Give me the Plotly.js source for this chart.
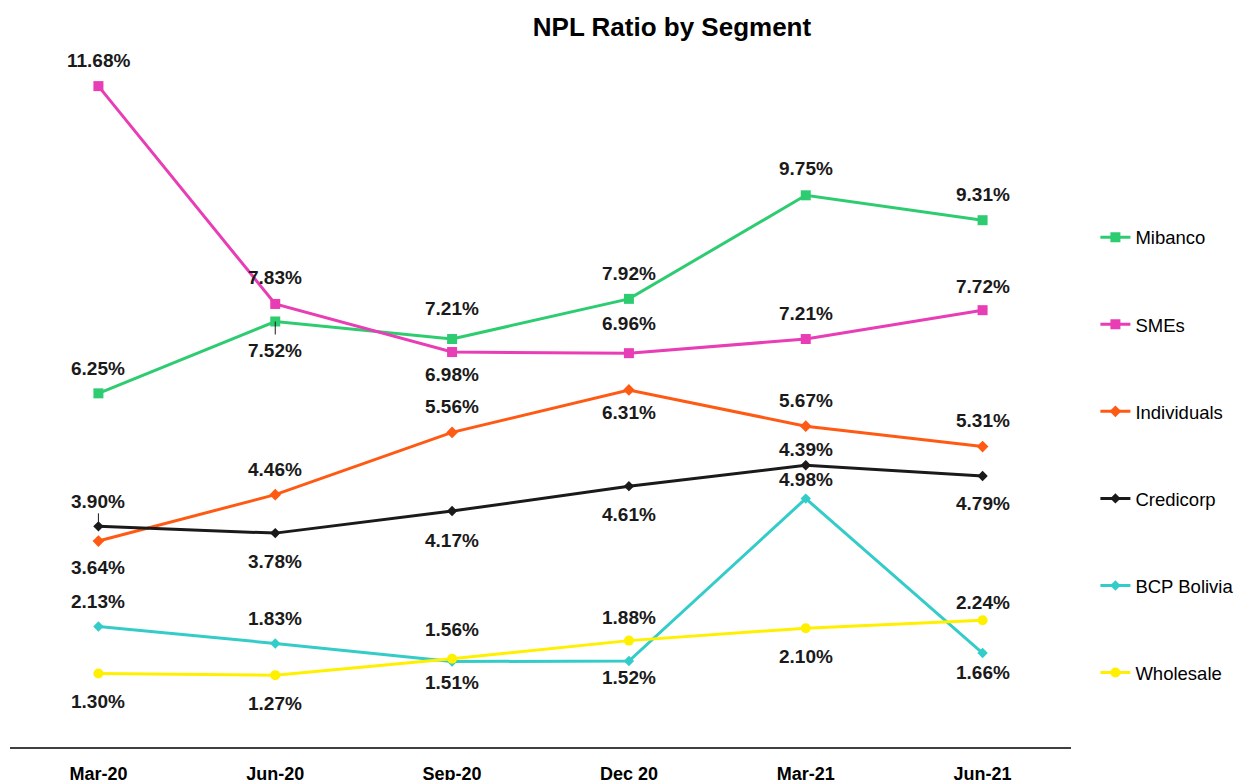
<!DOCTYPE html>
<html>
<head>
<meta charset="utf-8">
<script src="https://cdn.plot.ly/plotly-3.0.1.min.js"></script>
<style>html,body{margin:0;padding:0;background:#fff;}#chart{width:1241px;height:780px;}</style>
</head>
<body>
<div id="chart"></div>
<script>
// ---- data ----
const categories = ['Mar-20', 'Jun-20', 'Sep-20', 'Dec 20', 'Mar-21', 'Jun-21'];
const seriesNames = ['Mibanco', 'SMEs', 'Individuals', 'Credicorp', 'BCP Bolivia', 'Wholesale'];
const mibanco     = [6.25, 7.52, 7.21, 7.92, 9.75, 9.31];
const smes        = [11.68, 7.83, 6.98, 6.96, 7.21, 7.72];
const individuals = [3.64, 4.46, 5.56, 6.31, 5.67, 5.31];
const credicorp   = [3.90, 3.78, 4.17, 4.61, 4.98, 4.79];
const bcpBolivia  = [2.13, 1.83, 1.51, 1.52, 4.39, 1.66];
const wholesale   = [1.30, 1.27, 1.56, 1.88, 2.10, 2.24];
// data labels as printed in the reference (Mar-21 labels of Credicorp / BCP Bolivia are swapped there)
const mibancoLabels     = ['6.25%', '7.52%', '7.21%', '7.92%', '9.75%', '9.31%'];
const smesLabels        = ['11.68%', '7.83%', '6.98%', '6.96%', '7.21%', '7.72%'];
const individualsLabels = ['3.64%', '4.46%', '5.56%', '6.31%', '5.67%', '5.31%'];
const credicorpLabels   = ['3.90%', '3.78%', '4.17%', '4.61%', '4.39%', '4.79%'];
const bcpBoliviaLabels  = ['2.13%', '1.83%', '1.51%', '1.52%', '4.98%', '1.66%'];
const wholesaleLabels   = ['1.30%', '1.27%', '1.56%', '1.88%', '2.10%', '2.24%'];

// ---- styling / label placement (pixels, not data; negative = below the point) ----
const FONT = 'Liberation Sans, Arial, sans-serif';
const styles = [
  {color: '#2ECC71', symbol: 'square',  size: 10},
  {color: '#E83DB5', symbol: 'square',  size: 10},
  {color: '#FF5A14', symbol: 'diamond', size: 9},
  {color: '#1A1A1A', symbol: 'diamond', size: 8},
  {color: '#33CCC8', symbol: 'diamond', size: 8},
  {color: '#FFF000', symbol: 'circle',  size: 10}
];
const labelShift = [
  [25, -29, 31, 25, 27, 26],
  [26, 26, -22, 30, 26, 24],
  [-26, 25, 26, -23, 26, 26],
  [25, -28, -29, -28, 16, -28],
  [25, 25, -21, -17, 19, -19],
  [-28, -28, 29, 23, -28, 18]
];

const values = [mibanco, smes, individuals, credicorp, bcpBolivia, wholesale];
const labels = [mibancoLabels, smesLabels, individualsLabels, credicorpLabels, bcpBoliviaLabels, wholesaleLabels];

const traces = values.map((v, i) => ({
  type: 'scatter',
  mode: 'lines+markers',
  name: seriesNames[i],
  legendgroup: seriesNames[i],
  x: categories,
  y: v,
  line: {color: styles[i].color, width: 3},
  marker: {color: styles[i].color, symbol: styles[i].symbol, size: styles[i].size},
  hoverinfo: 'x+y+name'
}));

const annotations = [];
values.forEach((v, i) => {
  v.forEach((val, j) => {
    annotations.push({
      x: categories[j], y: val, xref: 'x', yref: 'y',
      text: '<b>' + labels[i][j] + '</b>',
      showarrow: false,
      xanchor: 'center', yanchor: 'middle',
      yshift: labelShift[i][j],
      font: {family: FONT, size: 19, color: '#1a1a1a'}
    });
  });
});

// short leader lines seen in the reference
const shapes = [
  {type: 'line', xref: 'x', yref: 'y', ysizemode: 'pixel', x0: categories[0], x1: categories[0],
   yanchor: credicorp[0], y0: 0, y1: 13, line: {color: '#1a1a1a', width: 1}},
  {type: 'line', xref: 'x', yref: 'y', ysizemode: 'pixel', x0: categories[1], x1: categories[1],
   yanchor: mibanco[1], y0: 0, y1: -13, line: {color: '#1a1a1a', width: 1}}
];

const layout = {
  width: 1241, height: 780,
  margin: {l: 10, r: 170, t: 68, b: 33, autoexpand: false},
  paper_bgcolor: '#ffffff', plot_bgcolor: '#ffffff',
  font: {family: FONT, color: '#000'},
  title: {
    text: '<b>NPL Ratio by Segment</b>',
    font: {family: FONT, size: 26, color: '#000'},
    xref: 'container', x: 0.5415, xanchor: 'center',
    yref: 'container', y: 0.965, yanchor: 'middle'
  },
  xaxis: {
    type: 'category', range: [-0.5, 5.5],
    showline: true, linecolor: '#404040', linewidth: 1.5,
    showgrid: false, zeroline: false, ticks: '',
    ticklabelstandoff: 10,
    tickfont: {family: FONT, size: 18, color: '#000', weight: 'bold'},
    fixedrange: true
  },
  yaxis: {
    range: [0, 12], visible: false, showgrid: false, zeroline: false, fixedrange: true
  },
  showlegend: true,
  legend: {
    x: 1.023, xanchor: 'left', y: 0.778, yanchor: 'top',
    font: {family: FONT, size: 18.5, color: '#000'},
    tracegroupgap: 60, traceorder: 'grouped',
    bgcolor: 'rgba(0,0,0,0)', itemwidth: 30
  },
  annotations: annotations,
  shapes: shapes
};

Plotly.newPlot('chart', traces, layout, {displayModeBar: false, responsive: false});
</script>
</body>
</html>
